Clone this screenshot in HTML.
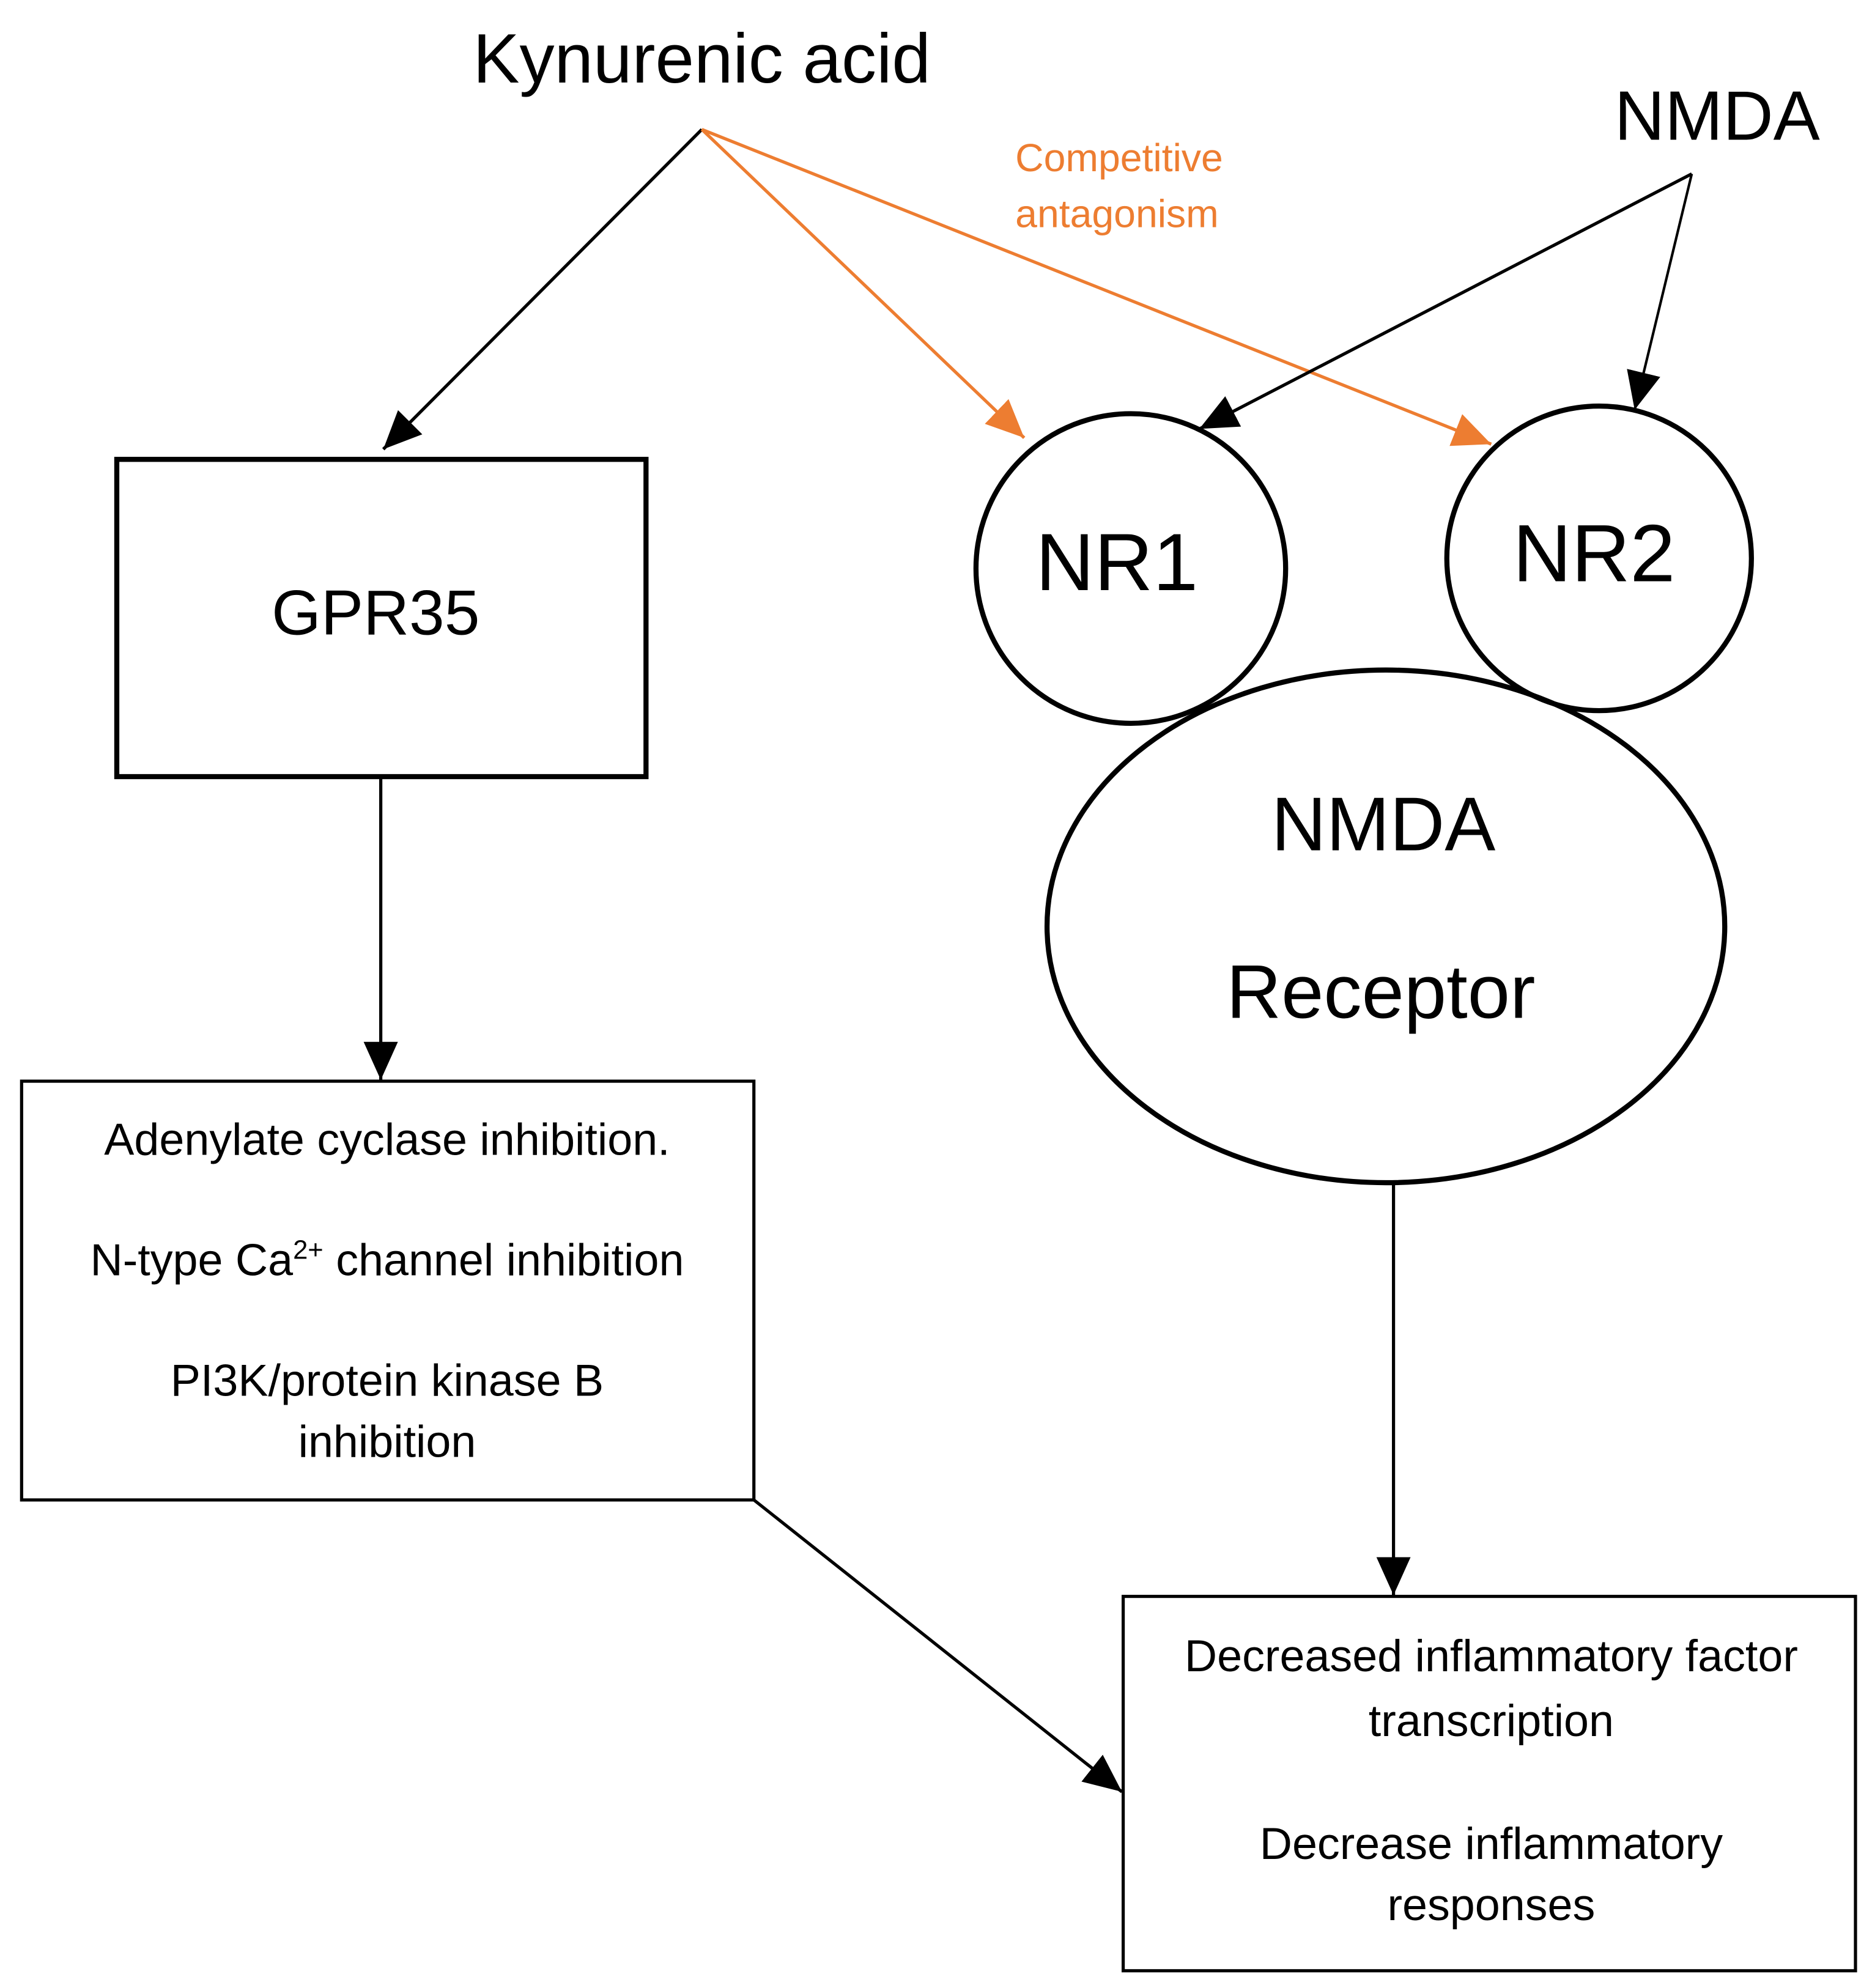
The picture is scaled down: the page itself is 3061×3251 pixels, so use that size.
<!DOCTYPE html>
<html><head><meta charset="utf-8"><style>
html,body{margin:0;padding:0;background:#fff;}
svg{display:block;}
text{font-family:"Liberation Sans",sans-serif;fill:#000;}
</style></head><body>
<svg width="3061" height="3251" viewBox="0 0 1475 1566.6" xmlns="http://www.w3.org/2000/svg">
<defs>
<marker id="ab2" viewBox="0 0 10 10" refX="10" refY="5" markerWidth="30" markerHeight="30" markerUnits="userSpaceOnUse" orient="auto"><path d="M0,0.5 L10,5 L0,9.5 z" fill="#000"/></marker>
<marker id="ao" viewBox="0 0 10 10" refX="10" refY="5" markerWidth="30" markerHeight="30" markerUnits="userSpaceOnUse" orient="auto"><path d="M0,0.5 L10,5 L0,9.5 z" fill="#ED7D31"/></marker>
</defs>
<rect width="1475" height="1567" fill="#fff"/>
<text x="553" y="65" font-size="55" text-anchor="middle">Kynurenic acid</text>
<text x="1353" y="110" font-size="55" text-anchor="middle">NMDA</text>
<text x="800" y="135" font-size="31" style="fill:#ED7D31">Competitive</text>
<text x="800" y="179" font-size="31" style="fill:#ED7D31">antagonism</text>

<line x1="553" y1="102" x2="302" y2="354" stroke="#000" stroke-width="2.5" marker-end="url(#ab2)"/>
<line x1="553" y1="102" x2="807" y2="345" stroke="#ED7D31" stroke-width="2.5" marker-end="url(#ao)"/>
<line x1="553" y1="102" x2="1175" y2="350" stroke="#ED7D31" stroke-width="2.5" marker-end="url(#ao)"/>
<line x1="1333" y1="137" x2="945" y2="338" stroke="#000" stroke-width="2.5" marker-end="url(#ab2)"/>
<line x1="1333" y1="137" x2="1288" y2="323" stroke="#000" stroke-width="2" marker-end="url(#ab2)"/>

<rect x="92" y="362" width="417" height="250" fill="none" stroke="#000" stroke-width="4"/>
<text x="296" y="500" font-size="50" text-anchor="middle">GPR35</text>

<line x1="300" y1="612" x2="300" y2="851" stroke="#000" stroke-width="2.5" marker-end="url(#ab2)"/>

<rect x="17" y="852" width="577" height="330" fill="none" stroke="#000" stroke-width="2.5"/>
<g font-size="35.5" text-anchor="middle">
<text x="305" y="910">Adenylate cyclase inhibition.</text>
<text x="305" y="1005">N-type Ca<tspan font-size="21" dy="-13">2+</tspan><tspan dy="13"> channel inhibition</tspan></text>
<text x="305" y="1100">PI3K/protein kinase B</text>
<text x="305" y="1148">inhibition</text>
</g>

<ellipse cx="1092" cy="730" rx="267" ry="202" fill="#fff" stroke="#000" stroke-width="4"/>
<circle cx="891" cy="448" r="122" fill="none" stroke="#000" stroke-width="4"/>
<circle cx="1260" cy="440" r="120" fill="none" stroke="#000" stroke-width="4"/>
<text x="880" y="465" font-size="64" text-anchor="middle">NR1</text>
<text x="1256" y="458" font-size="64" text-anchor="middle">NR2</text>
<text x="1090" y="670" font-size="60" text-anchor="middle">NMDA</text>
<text x="1088" y="802" font-size="60" text-anchor="middle">Receptor</text>

<line x1="1098" y1="932" x2="1098" y2="1257" stroke="#000" stroke-width="2.5" marker-end="url(#ab2)"/>
<line x1="594" y1="1182" x2="884" y2="1412" stroke="#000" stroke-width="2.5" marker-end="url(#ab2)"/>

<rect x="885" y="1258" width="577" height="295" fill="none" stroke="#000" stroke-width="2.5"/>
<g font-size="35.5" text-anchor="middle">
<text x="1175" y="1317">Decreased inflammatory factor</text>
<text x="1175" y="1368">transcription</text>
<text x="1175" y="1465">Decrease inflammatory</text>
<text x="1175" y="1513">responses</text>
</g>
</svg>
</body></html>
